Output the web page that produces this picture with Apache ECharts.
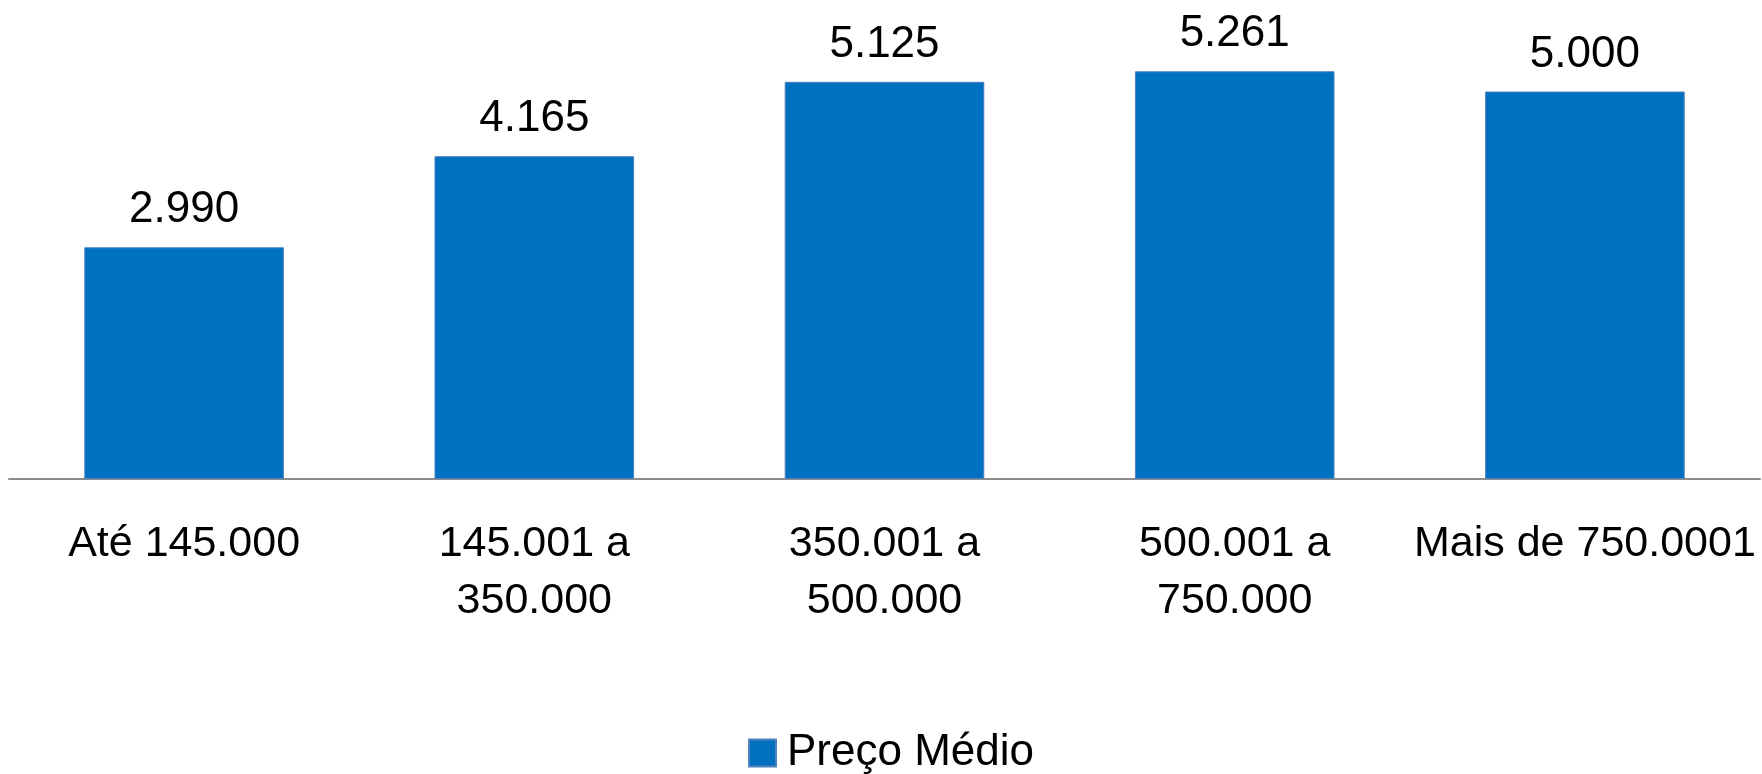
<!DOCTYPE html>
<html>
<head>
<meta charset="utf-8">
<script src="https://cdn.jsdelivr.net/npm/echarts@6/dist/echarts.min.js"></script>
<style>
html,body{margin:0;padding:0;background:#fff;}
#chart{width:1762px;height:774px;}
</style>
</head>
<body>
<div id="chart"></div>
<script>
const categories = ["Até 145.000", "145.001 a 350.000", "350.001 a 500.000", "500.001 a 750.000", "Mais de 750.0001"];
const seriesName = "Preço Médio";
const values = [2.990, 4.165, 5.125, 5.261, 5.000];

const FONT = "Liberation Sans";
const chart = echarts.init(document.getElementById('chart'), null, {renderer: 'canvas'});
chart.setOption({
  animation: false,
  backgroundColor: '#ffffff',
  textStyle: {fontFamily: FONT},
  grid: {left: 9, right: 2, top: 14, bottom: 295, containLabel: false},
  legend: {
    show: true,
    bottom: -6,
    left: 743,
    itemWidth: 27,
    itemHeight: 27,
    itemGap: 10,
    icon: 'rect',
    textStyle: {fontFamily: FONT, fontSize: 44, color: '#000', padding: [0, 0, 0, 6]},
    data: [seriesName]
  },
  xAxis: {
    type: 'category',
    data: categories,
    axisLine: {show: true, lineStyle: {color: '#8c8c8c', width: 2}},
    axisTick: {show: false},
    axisLabel: {
      interval: 0,
      margin: 37,
      color: '#000',
      fontFamily: FONT,
      fontSize: 43,
      lineHeight: 57,
      formatter: function (v) { return v.replace(' a ', ' a\n'); }
    }
  },
  yAxis: {
    type: 'value',
    min: 0,
    max: 6,
    show: false,
    splitLine: {show: false}
  },
  series: [{
    name: seriesName,
    type: 'bar',
    data: values,
    barWidth: '57%',
    itemStyle: {color: '#0070C0', borderColor: '#4F81BD', borderWidth: 1},
    label: {
      show: true,
      position: 'top',
      distance: 15,
      color: '#000',
      fontFamily: FONT,
      fontSize: 44,
      formatter: function (p) { return p.value.toFixed(3); }
    }
  }]
});
</script>
</body>
</html>
